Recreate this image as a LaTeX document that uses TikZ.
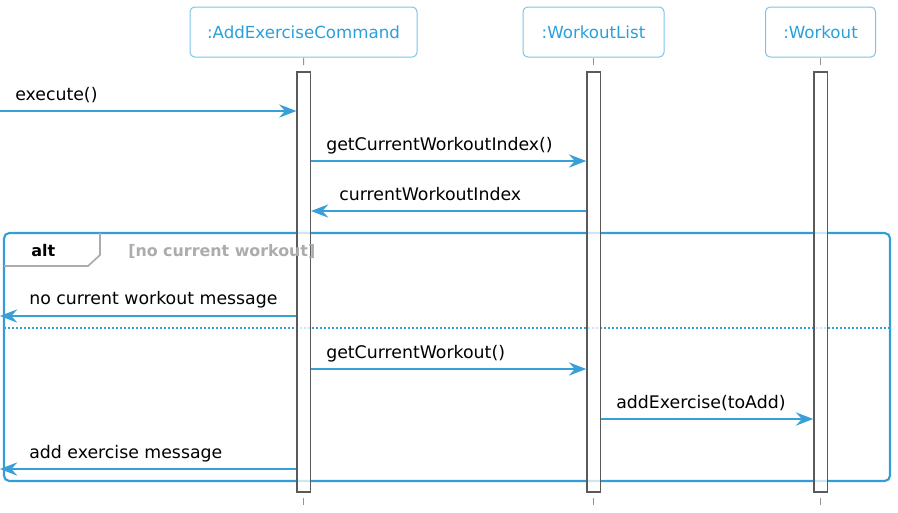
\documentclass[tikz,border=0pt]{standalone}
\usepackage{fontspec}
\setmainfont{DejaVu Sans}
\usetikzlibrary{arrows.meta}
\usetikzlibrary{positioning}
\definecolor{msgblue}{RGB}{56,160,216}
\definecolor{frameblue}{RGB}{52,156,214}
\definecolor{headtext}{RGB}{40,160,220}
\definecolor{headline}{RGB}{125,195,232}
\definecolor{tabgray}{RGB}{172,172,172}
\definecolor{actgray}{RGB}{90,90,90}
\definecolor{lifegray}{RGB}{150,150,150}

\begin{document}
\begin{tikzpicture}[x=0.75pt,y=0.75pt,yscale=-1,xscale=1,
  part/.style={draw=headline,line width=0.75pt,rounded corners=3.5pt,text=headtext,font=\fontsize{12.5}{15}\selectfont,minimum height=37.5pt,inner sep=0pt},
  life/.style={draw=lifegray,line width=0.75pt,dash pattern=on 5.25pt off 9.75pt},
  act/.style={draw=actgray,line width=1pt,fill=white,fill opacity=0.75,minimum width=10pt,minimum height=315pt,inner sep=0pt},
  msg/.style={draw=msgblue,line width=0.8pt,-{Stealth[length=13pt,width=10pt,inset=4.5pt]}},
  lbl/.style={anchor=base west,inner sep=0pt,font=\fontsize{13}{15}\selectfont},
  altframe/.style={draw=frameblue,line width=1.6pt,rounded corners=4pt},
  alttab/.style={draw=tabgray,line width=1.3pt},
  sep/.style={draw=frameblue,line width=0.9pt,dash pattern=on 1.5pt off 1.5pt}]
\useasboundingbox (0,0) rectangle (898,512);

%Shape: Participants
\node[part,minimum width=170.25pt] (cmd) at (303.5,32) {:AddExerciseCommand};
\node[part,minimum width=105.75pt] (list) at (593.5,32) {:WorkoutList};
\node[part,minimum width=82.5pt] (wk) at (820.5,32) {:Workout};

%Shape: Alt frame
\draw[altframe] (4,233) rectangle (890,481);
\coordinate (tabA) at (100,233);
\coordinate (tabB) at (100,255);
\coordinate (tabC) at (88,266);
\coordinate (tabD) at (4,266);
\draw[alttab] (tabA) -- (tabB) -- (tabC) -- (tabD);
\draw[sep] (4,328) -- (890,328);

%Shape: Activations
\node[act] (cmdAct) at (303.7,282) {};
\node[act] (listAct) at (593.5,282) {};
\node[act] (wkAct) at (820.5,282) {};

%Straight Lines: lifelines
\foreach \p/\a in {cmd/cmdAct,list/listAct,wk/wkAct}{
  \draw[life] (\p |- 0,58) -- (\a.north);
  \draw[life] (\a.south |- 0,498) -- (\a.south |- 0,505);
}

%Straight Lines: messages
\coordinate (entry) at (0,111);
\coordinate (exitA) at (0,316);
\coordinate (exitB) at (0,469);
\draw[msg] (entry) -- (cmdAct.west |- entry);
\draw[msg] (cmdAct.east |- 0,161) -- (listAct.west |- 0,161);
\draw[msg] (listAct.west |- 0,211) -- (cmdAct.east |- 0,211);
\draw[msg] (cmdAct.west |- exitA) -- (exitA);
\draw[msg] (cmdAct.east |- 0,369) -- (listAct.west |- 0,369);
\draw[msg] (listAct.east |- 0,419) -- (wkAct.west |- 0,419);
\draw[msg] (cmdAct.west |- exitB) -- (exitB);

% Text Node
\node[lbl] (lExec) at (15,100.5) {execute()};
\node[lbl] (lGetIdx) at (326,150.5) {getCurrentWorkoutIndex()};
\node[lbl] (lIdx) at (339,200.5) {currentWorkoutIndex};
\node[lbl,font=\fontsize{12}{14}\selectfont\bfseries] (lAlt) at (31,256) {alt};
\node[lbl,font=\fontsize{11.9}{14}\selectfont\bfseries,text=tabgray] (lCond) at (128,256.5) {[no current workout]};
\node[lbl] (lNone) at (29,304.5) {no current workout message};
\node[lbl] (lGetWk) at (326,358.5) {getCurrentWorkout()};
\node[lbl] (lAdd) at (616,408.5) {addExercise(toAdd)};
\node[lbl] (lDone) at (29,458.5) {add exercise message};

\end{tikzpicture}
\end{document}
